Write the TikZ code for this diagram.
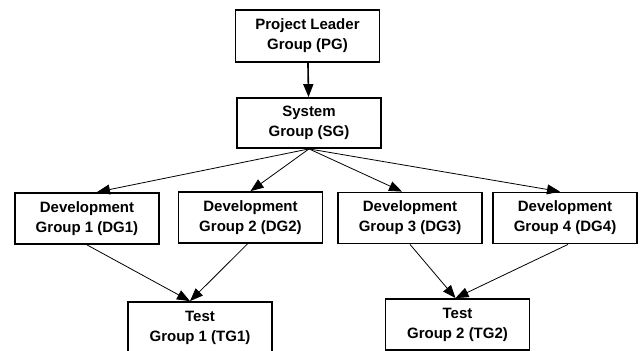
\documentclass[tikz,border=0pt]{standalone}
\usepackage{fontspec}
\setmainfont{Liberation Sans}
\usetikzlibrary{positioning, arrows.meta}

\tikzset{
  group/.style={draw, line width=1.8pt, minimum width=144pt, minimum height=51pt,
    inner sep=0pt, align=center, font=\bfseries\fontsize{15}{20}\selectfont},
  link/.style={-{Triangle[length=13pt,width=10pt]}, line width=0.8pt}
}

\begin{document}
\begin{tikzpicture}[x=1pt, y=-1pt]
\useasboundingbox (0,0) rectangle (641,351);
% groups
\node[group, minimum height=52pt] (pg) at (307.5,36) {Project Leader\\Group (PG)};
\node[group, minimum height=50pt] (sg) at (309,123) {System\\Group (SG)};
\node[group] (dg1) at (87,218.5) {Development\\Group 1 (DG1)};
\node[group] (dg2) at (250.5,217.5) {Development\\Group 2 (DG2)};
\node[group] (dg3) at (410,218) {Development\\Group 3 (DG3)};
\node[group] (dg4) at (565,218) {Development\\Group 4 (DG4)};
\node[group] (tg1) at (200,327.5) {Test\\Group 1 (TG1)};
\node[group] (tg2) at (457.5,324.5) {Test\\Group 2 (TG2)};
% connectors
\draw[link, line width=1.6pt] (pg) -- (sg);
\draw[link] (sg.south) -- ([xshift=10pt]dg1.north);
\draw[link] (sg.south) -- (dg2.north);
\draw[link] (sg.south) -- ([xshift=-8pt]dg3.north);
\draw[link] (sg.south) -- ([xshift=-5pt]dg4.north);
\draw[link] (dg1.south) -- ([xshift=-10pt]tg1.north);
\draw[link] ([xshift=-3pt]dg2.south) -- ([xshift=-10pt]tg1.north);
\draw[link] (dg3.south) -- ([xshift=-2pt]tg2.north);
\draw[link] ([xshift=3pt]dg4.south) -- ([xshift=-2pt]tg2.north);
\end{tikzpicture}
\end{document}
